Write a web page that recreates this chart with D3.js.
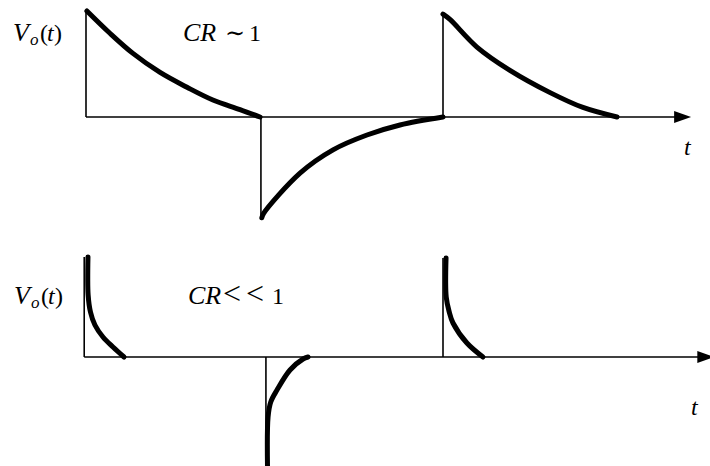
<!DOCTYPE html>
<html lang="en">
<head>
    <title>CR differentiator output</title>
    <script src="https://d3js.org/d3.v7.min.js"></script>
    <style>
        body { margin: 0; background: #fff; }
        svg text {
            font-family: "Liberation Serif", "DejaVu Serif", serif;
            font-size: 24px;
            fill: #000;
        }
        .thin { fill: none; stroke: #000; stroke-width: 1.6; }
        .thick { fill: none; stroke: #000; stroke-width: 5; stroke-linecap: round; stroke-linejoin: round; }
    </style>
</head>
<body>
    <svg id="chart"></svg>

    <script>
        var width = 710;
        var height = 466;

        // t in half-periods of the square wave, V relative to peak
        // top panel: CR ~ 1
        var topJumpTimes = [0, 0.98, 2.0];
        var topJumpLevels = [1.0, -0.97, 0.97];
        var topPos1 = [[0.005, 1.0], [0.134, 0.79], [0.263, 0.60], [0.415, 0.42], [0.566, 0.28], [0.711, 0.16], [0.863, 0.07], [0.975, 0.0]];
        var topNeg = [[0.985, -0.95], [0.995, -0.91], [1.199, -0.53], [1.384, -0.31], [1.574, -0.17], [1.759, -0.075], [2.0, 0.0]];
        var topPos2 = [[2.0, 0.97], [2.039, 0.92], [2.19, 0.66], [2.375, 0.44], [2.6, 0.23], [2.784, 0.09], [2.975, 0.0]];
        var topAxisEnd = 3.39;

        // bottom panel: CR << 1
        var botJumpTimes = [-0.01, 1.008, 2.0];
        var botJumpLevels = [1.0, -1.12, 0.99];
        var botPos1 = [[0.011, 1.0], [0.012, 0.62], [0.025, 0.45], [0.05, 0.32], [0.095, 0.20], [0.151, 0.10], [0.213, 0.0]];
        var botNeg = [[1.017, -1.12], [1.02, -0.6], [1.035, -0.45], [1.07, -0.33], [1.143, -0.13], [1.216, -0.02], [1.244, 0.0]];
        var botPos2 = [[2.017, 0.99], [2.018, 0.6], [2.035, 0.45], [2.056, 0.34], [2.134, 0.14], [2.224, 0.0]];
        var botAxisEnd = 3.52;

        var xscale = d3.scaleLinear()
                .domain([0, 2])
                .range([86, 443]);
        var yTop = d3.scaleLinear()
                .domain([0, 1])
                .range([117, 11]);
        var yBot = d3.scaleLinear()
                .domain([0, 1])
                .range([357, 257]);

        var svg = d3.select("#chart")
            .attr("width", width)
            .attr("height", height);

        function drawPanel(yscale, jumpTimes, jumpLevels, pulses, axisEnd, xStart) {
            var g = svg.append("g");
            var line = d3.line()
                .x(function (d) { return xscale(d[0]); })
                .y(function (d) { return yscale(d[1]); })
                .curve(d3.curveCatmullRom.alpha(0.5));

            // time axis with arrow head
            var x0 = xscale(xStart), x1 = xscale(axisEnd), y0 = yscale(0);
            g.append("line").attr("class", "thin")
                .attr("x1", x0).attr("y1", y0)
                .attr("x2", x1 - 10).attr("y2", y0);
            g.append("path")
                .attr("d", "M" + x1 + "," + y0 + "L" + (x1 - 17) + "," + (y0 - 6) + "L" + (x1 - 17) + "," + (y0 + 6) + "Z")
                .attr("fill", "#000");

            // square-wave edges
            g.selectAll(".edge")
                .data(jumpTimes)
                .enter()
                .append("line")
                .attr("class", "thin")
                .attr("x1", function (d) { return xscale(d); })
                .attr("x2", function (d) { return xscale(d); })
                .attr("y1", y0)
                .attr("y2", function (d, i) { return yscale(jumpLevels[i]); });

            g.selectAll(".pulse")
                .data(pulses)
                .enter()
                .append("path")
                .attr("class", "thick")
                .attr("d", line);
            return g;
        }

        drawPanel(yTop, topJumpTimes, topJumpLevels, [topPos1, topNeg, topPos2], topAxisEnd, 0);
        drawPanel(yBot, botJumpTimes, botJumpLevels, [botPos1, botNeg, botPos2], botAxisEnd, -0.01);

        // labels are set piece by piece to get the wide TeX-like spacing
        function vLabel(x, y) {
            var t = svg.append("text").attr("y", y);
            t.append("tspan").attr("x", x).attr("font-style", "italic").attr("font-size", "26px").text("V");
            t.append("tspan").attr("x", x + 17).attr("font-style", "italic").attr("font-size", "17px").attr("dy", 4).text("o");
            t.append("tspan").attr("x", x + 27).attr("dy", -4).text("(");
            t.append("tspan").attr("x", x + 34).attr("font-style", "italic").text("t");
            t.append("tspan").attr("x", x + 41).text(")");
        }
        function crLabel(x, y, parts, offsets, opSize) {
            var t = svg.append("text").attr("y", y);
            t.append("tspan").attr("x", x).attr("font-style", "italic")
                .attr("font-size", "26px").text("CR");
            parts.forEach(function (p, i) {
                t.append("tspan").attr("x", x + offsets[i])
                    .attr("font-size", i < parts.length - 1 ? opSize : "24px")
                    .text(p);
            });
        }
        function tLabel(x, y) {
            svg.append("text").attr("x", x).attr("y", y)
                .attr("font-style", "italic").text("t");
        }

        vLabel(13, 41);
        crLabel(183, 41, ["\u223C", "1"], [42, 66], "24px");
        tLabel(684, 155);

        vLabel(14, 304);
        crLabel(188, 304, ["<", "<", "1"], [35, 58, 84], "32px");
        tLabel(691, 415);
    </script>
</body>
</html>
